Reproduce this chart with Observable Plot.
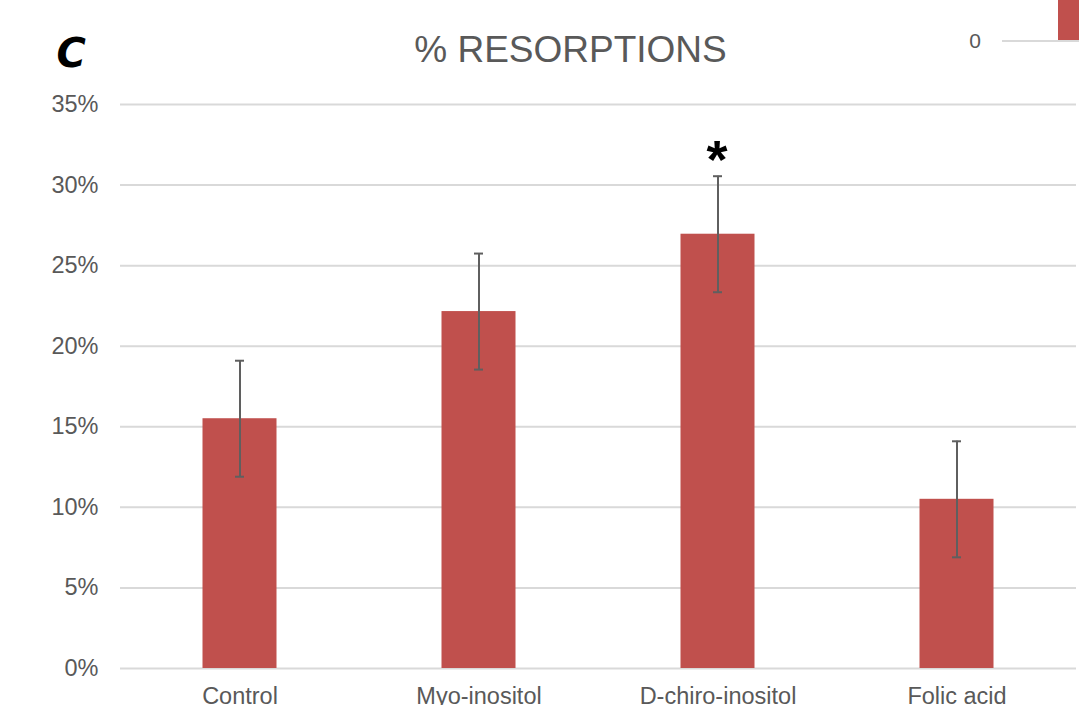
<!DOCTYPE html>
<html>
<head>
<meta charset="utf-8">
<script src="https://cdn.jsdelivr.net/npm/d3@7"></script>
<script src="https://cdn.jsdelivr.net/npm/@observablehq/plot@0.6"></script>
<style>
  html, body { margin: 0; padding: 0; background: #fff; }
  #chart { position: relative; width: 1079px; height: 705px; overflow: hidden; }
</style>
</head>
<body>
<div id="chart"></div>
<script>
const categories = ["Control", "Myo-inositol", "D-chiro-inositol", "Folic acid"];
const values = [0.155, 0.2215, 0.2695, 0.105];
const errors = [0.036, 0.036, 0.036, 0.036];
const significant = [false, false, true, false];
const yTicks = [0, 0.05, 0.10, 0.15, 0.20, 0.25, 0.30, 0.35];

const data = categories.map((c, i) => ({
  cat: c, v: values[i], lo: values[i] - errors[i], hi: values[i] + errors[i], sig: significant[i]
}));

const plot = Plot.plot({
  width: 1079,
  height: 705,
  marginLeft: 120,
  marginRight: 3,
  marginTop: 104,
  marginBottom: 37,
  style: { fontFamily: "'Liberation Sans', Arial, sans-serif", background: "#fff", overflow: "visible" },
  x: { domain: categories, padding: 0, label: null },
  y: { domain: [0, 0.35], label: null },
  marks: [
    Plot.gridY(yTicks, { stroke: "#d9d9d9", strokeOpacity: 1, strokeWidth: 2 }),
    Plot.barY(data, { x: "cat", y: "v", fill: "#c0504d", insetLeft: 82.5, insetRight: 82.5 }),
    Plot.ruleX(data, { x: "cat", y1: "lo", y2: "hi", stroke: "#5f5f5f", strokeWidth: 2 }),
    Plot.tickY(data, { x: "cat", y: "lo", stroke: "#5f5f5f", strokeWidth: 2, insetLeft: 115, insetRight: 115 }),
    Plot.tickY(data, { x: "cat", y: "hi", stroke: "#5f5f5f", strokeWidth: 2, insetLeft: 115, insetRight: 115 }),
    Plot.text(data.filter(d => d.sig), { x: "cat", y: "hi", text: () => "*", dy: 2, fontSize: 54, fontWeight: "bold", fill: "#000", lineAnchor: "bottom", dx: -1 }),
    Plot.axisY(yTicks, { tickSize: 0, tickPadding: 22, tickFormat: d3.format(".0%"), fontSize: 23.5, fill: "#595959" }),
    Plot.axisX({ tickSize: 0, tickPadding: 19, fontSize: 23.5, fill: "#595959" }),
    Plot.text(["% RESORPTIONS"], { frameAnchor: "top", dy: -69, dx: -28, fontSize: 37, fill: "#595959", lineAnchor: "top" }),
    Plot.text(["C"], { frameAnchor: "top-left", dx: -64, dy: -66, fontSize: 40, fontWeight: "bold", fontStyle: "italic", fill: "#000", fontFamily: "'DejaVu Sans', sans-serif", lineAnchor: "top" })
  ]
});
document.getElementById("chart").appendChild(plot);

// Cropped fragment of a neighbouring chart at the top-right edge
const svg = d3.select(plot);
svg.append("rect").attr("x", 1058).attr("y", -2).attr("width", 30).attr("height", 42).attr("fill", "#c0504d");
svg.append("line").attr("x1", 1002).attr("x2", 1079).attr("y1", 41).attr("y2", 41).attr("stroke", "#d9d9d9").attr("stroke-width", 2);
svg.append("text").attr("x", 981).attr("y", 48).attr("text-anchor", "end").attr("font-size", 21).attr("fill", "#595959").text("0");
</script>
</body>
</html>
